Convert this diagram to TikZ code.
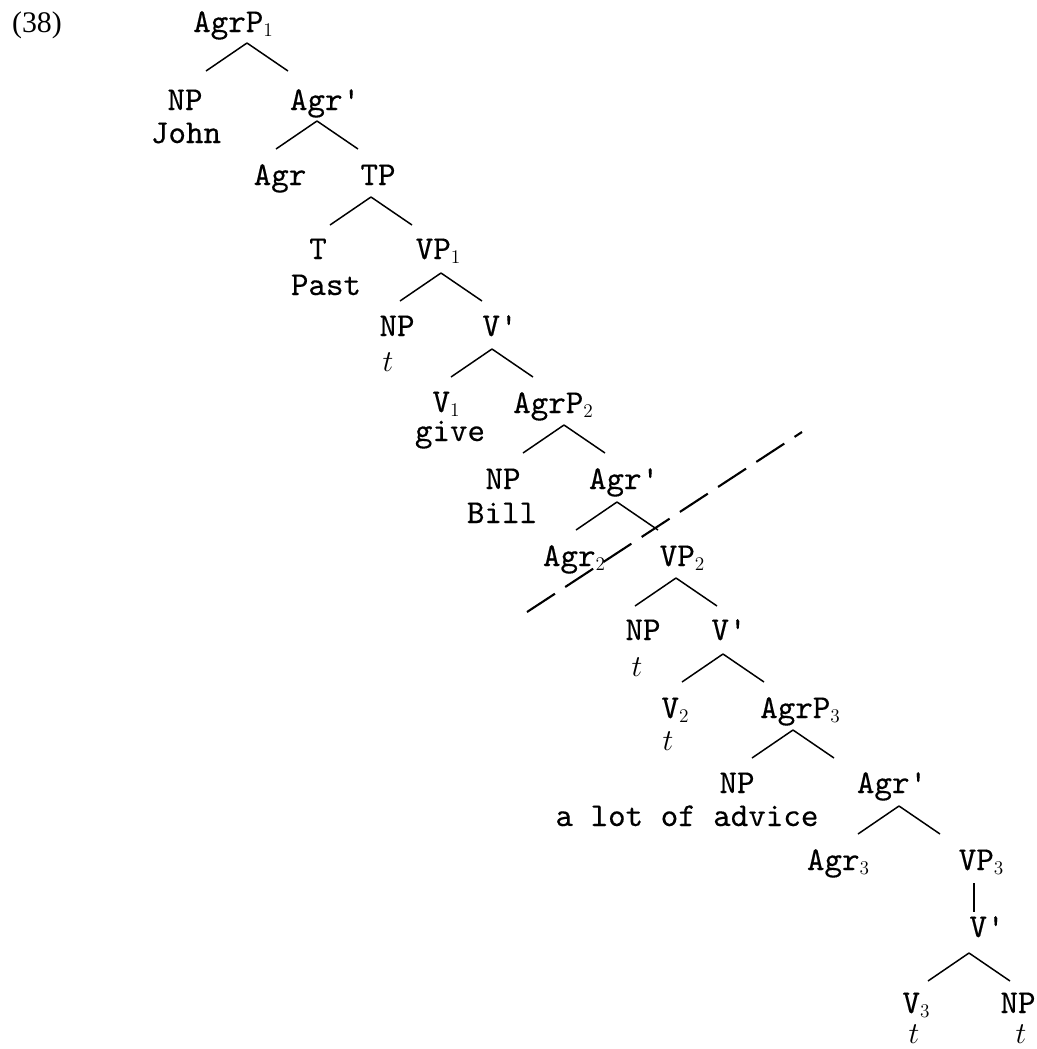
\documentclass[tikz,border=0pt]{standalone}
\usepackage{fontspec}
\newfontfamily\treefont{lmmono10-regular}[Extension=.otf,FakeBold=0.3]
\newfontfamily\numfont{Liberation Serif}
\usetikzlibrary{positioning,calc}
\newcommand\ix[1]{\raisebox{-2.8pt}{\fontsize{11}{12}\selectfont\rmfamily #1}}
\newcommand\pr{\textquotesingle}

\begin{document}
\begin{tikzpicture}[x=0.02cm,y=-0.02cm,line width=0.85pt,
  lbl/.style={font=\fontsize{19}{23}\selectfont\treefont,inner sep=0pt,anchor=base},
  cut/.style={dash pattern=on 19pt off 7pt,line width=1.2pt}]
\useasboundingbox (0,0) rectangle (1037,1049);
\node[lbl,font=\fontsize{17}{20}\selectfont\numfont] (ex) at (37,32) {(38)};
 %labels
\node[lbl] (agrpa) at (233,32) {AgrP\ix1};
\node[lbl] (npa) at (185,110) {NP};
\node[lbl] (john) at (186,143) {John};
\node[lbl] (agrba) at (325,110) {Agr\pr};
\node[lbl] (agra) at (280,185) {Agr};
\node[lbl] (tp) at (378,185) {TP};
\node[lbl] (t) at (318,259) {T};
\node[lbl] (past) at (326,295) {Past};
\node[lbl] (vpa) at (438,259) {VP\ix1};
\node[lbl] (npb) at (397,336) {NP};
\node[lbl] (ta) at (388,371) {$t$};
\node[lbl] (vba) at (500,336) {V\pr};
\node[lbl] (va) at (446,412) {V\ix1};
\node[lbl] (give) at (450,441) {give};
\node[lbl] (agrpb) at (553,413) {AgrP\ix2};
\node[lbl] (npc) at (503,489) {NP};
\node[lbl] (bill) at (502,523) {Bill};
\node[lbl] (agrbb) at (624,489) {Agr\pr};
\node[lbl] (agrb) at (574,566) {Agr\ix2};
\node[lbl] (vpb) at (682,566) {VP\ix2};
\node[lbl] (npd) at (643,640) {NP};
\node[lbl] (tb) at (637,676) {$t$};
\node[lbl] (vbb) at (729,640) {V\pr};
\node[lbl] (vb) at (675,718) {V\ix2};
\node[lbl] (tc) at (668,750) {$t$};
\node[lbl] (agrpc) at (800,718) {AgrP\ix3};
\node[lbl] (npe) at (737,793) {NP};
\node[lbl] (advice) at (687,826) {a lot of advice};
\node[lbl] (agrbc) at (892,793) {Agr\pr};
\node[lbl] (agrc) at (838,870) {Agr\ix3};
\node[lbl] (vpc) at (981,870) {VP\ix3};
\node[lbl] (vbc) at (987,937) {V\pr};
\node[lbl] (vc) at (916,1013) {V\ix3};
\node[lbl] (td) at (914,1043) {$t$};
\node[lbl] (npf) at (1018,1013) {NP};
\node[lbl] (te) at (1021,1043) {$t$};
 %roofs
\coordinate (r1) at (247,43);
\coordinate (r2) at (317,121);
\coordinate (r3) at (371,197);
\coordinate (r4) at (441,273);
\coordinate (r5) at (492,349);
\coordinate (r6) at (564,425);
\coordinate (r7) at (617,502);
\coordinate (r8) at (676,578);
\coordinate (r9) at (723,654);
\coordinate (r10) at (793,730);
\coordinate (r11) at (899,806);
\coordinate (r12) at (969,953);
\coordinate (u1) at (974,883);
\draw (r1) -- ++(-41,28) (r1) -- ++(41,28);
\draw (r2) -- ++(-41,28) (r2) -- ++(41,28);
\draw (r3) -- ++(-41,28) (r3) -- ++(41,28);
\draw (r4) -- ++(-41,28) (r4) -- ++(41,28);
\draw (r5) -- ++(-41,28) (r5) -- ++(41,28);
\draw (r6) -- ++(-41,28) (r6) -- ++(41,28);
\draw (r7) -- ++(-41,28) (r7) -- ++(41,28);
\draw (r8) -- ++(-41,28) (r8) -- ++(41,28);
\draw (r9) -- ++(-41,28) (r9) -- ++(41,28);
\draw (r10) -- ++(-41,28) (r10) -- ++(41,28);
\draw (r11) -- ++(-41,28) (r11) -- ++(41,28);
\draw (r12) -- ++(-41,28) (r12) -- ++(41,28);
\draw (u1) -- ++(0,29);
 %cut
\coordinate (cutl) at (527,612);
\coordinate (cutr) at (802,432);
\draw[cut] (cutl) -- (cutr);
\end{tikzpicture}
\end{document}
